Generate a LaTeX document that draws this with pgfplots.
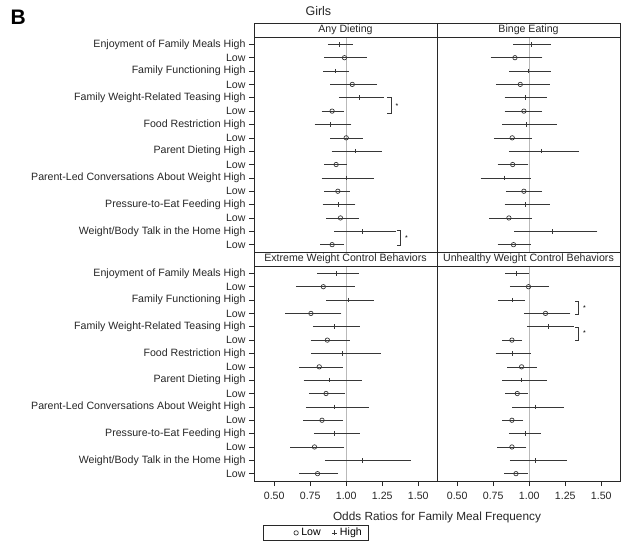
\documentclass[border=0pt]{standalone}
\usepackage{pgfplots}
\usepackage{pgfplotstable}
\pgfplotsset{compat=1.18}
\usepackage{fontspec}
\setmainfont{Liberation Sans}
\definecolor{barc}{RGB}{55,55,55}
\definecolor{axc}{RGB}{40,40,40}

% row est lo hi
\pgfplotstableread{
row est lo hi
1 0.953 0.895 1.021
3 0.923 0.862 0.995
5 1.093 0.972 1.240
7 0.893 0.804 1.012
9 1.061 0.921 1.222
11 1.000 0.853 1.168
13 0.942 0.860 1.040
15 1.112 0.939 1.320
}\adH
\pgfplotstableread{
row est lo hi
2 0.988 0.872 1.119
4 1.042 0.911 1.191
6 0.902 0.853 0.963
8 1.000 0.911 1.091
10 0.930 0.872 0.981
12 0.942 0.872 1.000
14 0.960 0.886 1.063
16 0.902 0.841 0.963
}\adL
\pgfplotstableread{
row est lo hi
1 1.014 0.912 1.127
3 0.995 0.885 1.127
5 0.972 0.852 1.099
7 0.982 0.836 1.169
9 1.081 0.882 1.323
11 0.824 0.686 0.988
13 0.972 0.852 1.118
15 1.159 0.919 1.450
}\beH
\pgfplotstableread{
row est lo hi
2 0.901 0.755 1.069
4 0.938 0.792 1.118
6 0.963 0.852 1.067
8 0.882 0.778 0.995
10 0.885 0.804 0.972
12 0.963 0.861 1.067
14 0.859 0.744 0.995
16 0.891 0.804 0.988
}\beL
\pgfplotstableread{
row est lo hi
1 0.932 0.822 1.063
3 1.014 0.886 1.168
5 0.921 0.792 1.070
7 0.972 0.780 1.215
9 0.886 0.727 1.084
11 0.921 0.743 1.133
13 0.921 0.799 1.072
15 1.110 0.874 1.425
}\ewH
\pgfplotstableread{
row est lo hi
2 0.841 0.673 1.037
4 0.755 0.600 0.944
6 0.869 0.776 1.000
8 0.813 0.696 0.953
10 0.860 0.764 0.967
12 0.832 0.724 0.953
14 0.780 0.636 0.963
16 0.801 0.696 0.921
}\ewL
\pgfplotstableread{
row est lo hi
1 0.912 0.857 0.977
3 0.880 0.808 0.947
5 1.136 1.009 1.286
7 0.880 0.790 0.986
9 0.947 0.834 1.097
11 1.044 0.905 1.217
13 0.970 0.882 1.058
15 1.044 0.889 1.238
}\uwH
\pgfplotstableread{
row est lo hi
2 0.995 0.889 1.115
4 1.113 0.986 1.263
6 0.880 0.834 0.928
8 0.947 0.871 1.028
10 0.917 0.857 0.968
12 0.880 0.834 0.935
14 0.880 0.801 0.958
16 0.908 0.850 0.968
}\uwL

\newcommand{\fs}{\fontsize{10.6}{12}\selectfont}

\tikzset{hdr/.style={anchor=south, draw=axc, line width=0.5pt,
      minimum width=183pt, minimum height=14pt, inner sep=0pt, font=\fs, text=black!85}}

\pgfplotsset{
  panel/.style={
    scale only axis, width=183pt, height=215pt, anchor=north west,
    xmin=0.36, xmax=1.63, ymin=0.45, ymax=16.55, y dir=reverse,
    clip=false,
    axis line style={line width=0.9pt, axc},
    tick style={line width=0.6pt, axc},
    tick align=outside, major tick length=5pt,
    xtick={0.5,0.75,1,1.25,1.5}, xticklabels={0.50,0.75,1.00,1.25,1.50},
    ytick={1,...,16},
    yticklabels={Enjoyment of Family Meals High, Low, Family Functioning High, Low,
      Family Weight-Related Teasing High, Low, Food Restriction High, Low,
      Parent Dieting High, Low, Parent-Led Conversations About Weight High, Low,
      Pressure-to-Eat Feeding High, Low, Weight/Body Talk in the Home High, Low},
    xtick pos=bottom, ytick pos=left,
    ticklabel style={font=\fs, text=black!85},
    xticklabel style={yshift=-3pt},
  },
  notx/.style={xtick=\empty},
  noty/.style={ytick=\empty},
  hi/.style={barc, only marks, mark=+, mark size=2.3pt, mark options={line width=0.7pt},
    error bars/.cd, x dir=both, x explicit,
    error bar style={barc, line width=0.6pt},
    error mark options={barc, mark size=3.3pt, line width=0.6pt}, /pgfplots/.cd},
  lo/.style={barc, only marks, mark=o, mark size=2.2pt, mark options={line width=0.7pt},
    error bars/.cd, x dir=both, x explicit,
    error bar style={barc, line width=0.6pt},
    error mark options={barc, mark size=3.3pt, line width=0.6pt}, /pgfplots/.cd},
  table/ebtab/.style={x=est, y=row, x error plus expr=\thisrow{hi}-\thisrow{est},
    x error minus expr=\thisrow{est}-\thisrow{lo}},
}

\begin{document}
\begin{tikzpicture}
\path[use as bounding box] (0,0) rectangle (629pt,-546pt);

\node[anchor=base west, font=\bfseries\fontsize{21}{24}\selectfont] at (7pt,-24pt) {B};
\node[anchor=base west, font=\fontsize{12.5}{14}\selectfont, text=black!85] at (302pt,-16pt) {Girls};

% Any Dieting
\begin{axis}[panel, notx, at={(254pt,-37pt)}]
\addplot[gray!55, line width=0.8pt] coordinates {(1,0.45) (1,16.55)};
\addplot[hi] table[ebtab] {\adH};
\addplot[lo] table[ebtab] {\adL};
\draw[barc, line width=0.6pt] (axis cs:1.282,4.95) -- (axis cs:1.311,4.95) -- (axis cs:1.311,6.15) -- (axis cs:1.282,6.15);
\node[font=\fontsize{7}{8}\selectfont] at (axis cs:1.352,5.6) {*};
\draw[barc, line width=0.6pt] (axis cs:1.349,14.9) -- (axis cs:1.378,14.9) -- (axis cs:1.378,16.05) -- (axis cs:1.349,16.05);
\node[font=\fontsize{7}{8}\selectfont] at (axis cs:1.418,15.5) {*};
\node[hdr] at (rel axis cs:0.5,1) {Any Dieting};
\end{axis}

% Binge Eating
\begin{axis}[panel, notx, noty, at={(437pt,-37pt)}]
\addplot[gray!55, line width=0.8pt] coordinates {(1,0.45) (1,16.55)};
\addplot[hi] table[ebtab] {\beH};
\addplot[lo] table[ebtab] {\beL};
\node[hdr] at (rel axis cs:0.5,1) {Binge Eating};
\end{axis}

% Extreme Weight Control Behaviors
\begin{axis}[panel, at={(254pt,-266pt)},
  legend columns=2,
  legend style={draw=none, fill=none, at={(0.612,-0.205)}, anchor=north east,
    font=\fs, inner sep=1pt, /tikz/every even column/.append style={column sep=8pt},
    nodes={inner xsep=3pt}}]
\addlegendimage{only marks, mark=o, mark size=2.2pt, mark options={line width=0.7pt}, barc}
\addlegendentry{Low}
\addlegendimage{only marks, mark=+, mark size=2.6pt, mark options={line width=0.7pt}, barc}
\addlegendentry{High}
\addplot[forget plot, gray!55, line width=0.8pt] coordinates {(1,0.45) (1,16.55)};
\addplot[forget plot, hi] table[ebtab] {\ewH};
\addplot[forget plot, lo] table[ebtab] {\ewL};
\node[hdr] at (rel axis cs:0.5,1) {Extreme Weight Control Behaviors};
\end{axis}

% Unhealthy Weight Control Behaviors
\begin{axis}[panel, noty, at={(437pt,-266pt)}]
\addplot[gray!55, line width=0.8pt] coordinates {(1,0.45) (1,16.55)};
\addplot[hi] table[ebtab] {\uwH};
\addplot[lo] table[ebtab] {\uwL};
\draw[barc, line width=0.6pt] (axis cs:1.320,3.1) -- (axis cs:1.342,3.1) -- (axis cs:1.342,4.1) -- (axis cs:1.320,4.1);
\node[font=\fontsize{7}{8}\selectfont] at (axis cs:1.383,3.6) {*};
\draw[barc, line width=0.6pt] (axis cs:1.320,5.05) -- (axis cs:1.342,5.05) -- (axis cs:1.342,6.05) -- (axis cs:1.320,6.05);
\node[font=\fontsize{7}{8}\selectfont] at (axis cs:1.383,5.45) {*};
\node[hdr] at (rel axis cs:0.5,1) {Unhealthy Weight Control Behaviors};
\end{axis}

\node[anchor=base, font=\fontsize{11.8}{14}\selectfont, text=black!85] at (437pt,-520pt) {Odds Ratios for Family Meal Frequency};
\draw[axc, line width=0.6pt] (263pt,-525pt) rectangle (368pt,-540pt);
\end{tikzpicture}
\end{document}
